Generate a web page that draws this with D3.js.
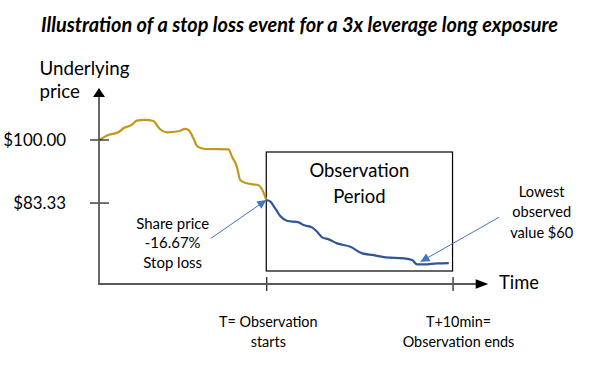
<!DOCTYPE html>
<html><head><meta charset="utf-8">
<script src="https://cdn.jsdelivr.net/npm/d3@7"></script>
<style>body{margin:0;background:#fff}svg{display:block}</style></head>
<body><svg id="c" width="593" height="369"></svg>
<script>
// ---- data (minutes relative to stop-loss trigger T, underlying price in $) ----
const timeBefore = [-8.96,-8.48,-7.94,-7.67,-7.22,-6.95,-6.51,-6.06,-5.88,-5.70,-5.34,-4.72,-4.35,-4.14,-3.91,-3.69,-3.28,-2.03,-1.84,-1.58,-1.40,-1.04,-0.41,-0.23,0];
const priceBefore = [99.87,101.19,101.9,102.96,103.84,104.97,105.16,104.89,103.84,102.7,101.9,102.17,102.78,102.33,100.32,98.1,97.49,97.41,95.45,92.8,89.29,88.41,87.88,86.83,84.0];
const timeObs = [0,0.22,0.48,0.75,1.11,1.74,2.0,2.46,2.73,3.0,3.35,3.8,4.52,5.15,5.77,6.4,7.38,7.83,8.1,8.46,9.18,9.8];
const priceObs = [84.0,83.55,81.8,79.76,78.52,78.1,77.38,76.77,75.61,74.13,73.6,72.54,71.64,69.89,69.44,68.84,68.57,68.12,66.98,66.98,67.25,67.33];
const yTickValues = [100, 83.33];
const yTickLabels = ["$100.00", "$83.33"];
const xTickValues = [0, 10];
const xTickLabels = [["T= Observation", "starts"], ["T+10min=", "Observation ends"]];
const titleText = "Illustration of a stop loss event for a 3x leverage long exposure";
const yAxisTitle = ["Underlying", "price"];
const xAxisTitle = "Time";
const boxLabel = ["Observation", "Period"];
const stopLabel = ["Share price", "-16.67%", "Stop loss"];
const lowLabel = ["Lowest", "observed", "value $60"];
const stopArrow = {from: [-2.97, 73.86], to: [0, 84.0]};
const lowArrow = {from: [12.49, 79.42], to: [8.28, 67.67]};

const FONT = "Lato, 'Open Sans', sans-serif";
const svg = d3.select("#c");
svg.append("rect").attr("width", 593).attr("height", 369).attr("fill", "#fff");

const x = d3.scaleLinear().domain([-8.98, 11.92]).range([99, 488.3]);
const y = d3.scaleLinear().domain([61.8, 114.4]).range([284, 85]);

// fit helper: scale font-size so the reference line gets the target width
function fitSize(str, target, base, weight, style) {
  const t = svg.append("text").attr("font-family", FONT).attr("font-size", base)
    .attr("font-weight", weight || "normal").attr("font-style", style || "normal").text(str);
  const w = t.node().getComputedTextLength();
  t.remove();
  return base * target / w;
}
function lines(arr, cx, y0, dy, size, anchor, extra) {
  arr.forEach((s, i) => {
    const t = svg.append("text").attr("x", cx).attr("y", y0 + i * dy)
      .attr("font-family", FONT).attr("font-size", size).attr("fill", "#000")
      .attr("text-anchor", anchor).text(s);
    if (extra) extra(t);
  });
}

// title
const tSize = fitSize(titleText, 517.6, 17, "bold", "italic");
lines([titleText], 299.5, 31.5, 0, tSize, "middle", t => t.attr("font-weight", "bold").attr("font-style", "italic"));

// observation box
svg.append("rect").attr("x", x(0)).attr("y", 152).attr("width", x(10) - x(0)).attr("height", 119)
  .attr("fill", "none").attr("stroke", "#000").attr("stroke-width", 1.2);
const boxSize = fitSize(boxLabel[0], 100, 19);
lines(boxLabel, (x(0) + x(10)) / 2, 176.7, 26, boxSize, "middle");

// lines
const line = d3.line().x(d => x(d[0])).y(d => y(d[1])).curve(d3.curveMonotoneX);
svg.append("path").datum(timeBefore.map((t, i) => [t, priceBefore[i]]))
  .attr("d", line).attr("fill", "none").attr("stroke", "#C4971A").attr("stroke-width", 2.2);
svg.append("path").datum(timeObs.map((t, i) => [t, priceObs[i]]))
  .attr("d", line).attr("fill", "none").attr("stroke", "#2F5597").attr("stroke-width", 2.2);

// y axis
const yAxis = d3.axisLeft(y).tickValues(yTickValues).tickFormat((d, i) => yTickLabels[i]).tickSize(9).tickPadding(24);
const gy = svg.append("g").attr("transform", `translate(${x.range()[0]},0)`).call(yAxis);
gy.select(".domain").remove();
gy.selectAll(".tick line").attr("x1", -9).attr("x2", 10).attr("stroke", "#000").attr("stroke-width", 1.1);
const ySize = fitSize(yTickLabels[0], 62.7, 19);
gy.selectAll(".tick text").attr("x", -33).attr("dy", "0.36em").attr("font-family", FONT).attr("font-size", ySize).attr("fill", "#000");

// x axis
const xAxis = d3.axisBottom(x).tickValues(xTickValues).tickFormat("").tickSize(7);
const gx = svg.append("g").attr("transform", `translate(0,${y.range()[0]})`).call(xAxis);
gx.select(".domain").remove();
gx.selectAll(".tick line").attr("y1", -7).attr("y2", 7).attr("stroke", "#000").attr("stroke-width", 1.1);
const bSize = fitSize(xTickLabels[1][1], 111.7, 14);
xTickValues.forEach((v, i) => lines(xTickLabels[i], x(v) + (i ? 6 : 2), 326.7, 20, bSize, "middle"));

// axis lines with arrowheads
const x0 = x.range()[0], yb = y.range()[0];
svg.append("line").attr("x1", x0).attr("y1", yb).attr("x2", x0).attr("y2", 95)
  .attr("stroke", "#595959").attr("stroke-width", 1.8);
svg.append("path").attr("d", `M${x0},88 L${x0 - 6},97 L${x0 + 6},97 Z`).attr("fill", "#000");
svg.append("line").attr("x1", x0 - 0.9).attr("y1", yb).attr("x2", 477).attr("y2", yb)
  .attr("stroke", "#595959").attr("stroke-width", 1.8);
svg.append("path").attr("d", `M${x.range()[1]},${yb} L475.7,${yb - 4.7} L475.7,${yb + 4.7} Z`).attr("fill", "#000");

// axis titles
const uSize = fitSize(yAxisTitle[0], 90, 19);
lines(yAxisTitle, 39.5, 75, 23, uSize, "start");
const timeSize = fitSize(xAxisTitle, 40, 19);
lines([xAxisTitle], 499, 288.5, 0, timeSize, "start");

// annotations
const defs = svg.append("defs");
defs.append("marker").attr("id", "ah").attr("viewBox", "0 0 10 10").attr("refX", 10).attr("refY", 5)
  .attr("markerWidth", 11).attr("markerHeight", 9).attr("markerUnits", "userSpaceOnUse").attr("orient", "auto")
  .append("path").attr("d", "M0,0 L10,5 L0,10 Z").attr("fill", "#4472C4");
[stopArrow, lowArrow].forEach(a => {
  svg.append("line").attr("x1", x(a.from[0])).attr("y1", y(a.from[1])).attr("x2", x(a.to[0])).attr("y2", y(a.to[1]))
    .attr("stroke", "#4472C4").attr("stroke-width", 1).attr("marker-end", "url(#ah)");
});
const sSize = fitSize(stopLabel[0], 73, 14);
lines(stopLabel, 172.7, 229, 19.4, sSize, "middle");
const lSize = fitSize(lowLabel[1], 59, 14);
lines(lowLabel, 541.7, 196.7, 20.5, lSize, "middle");
</script></body></html>
